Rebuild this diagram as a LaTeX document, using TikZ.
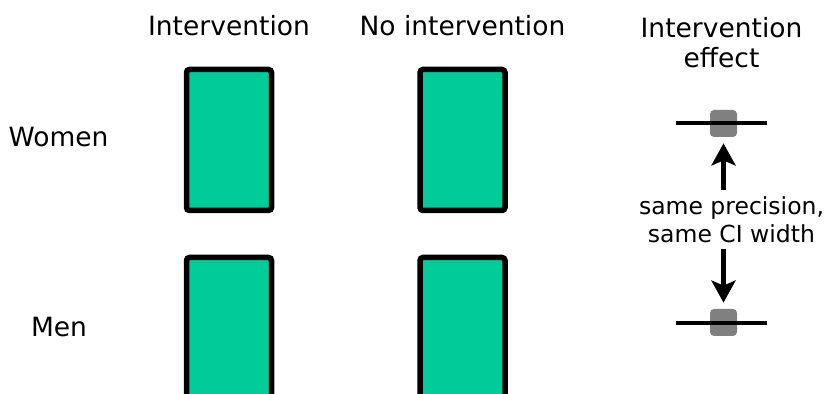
\documentclass[tikz,border=0pt]{standalone}
\usepackage{fontspec}
\setmainfont{DejaVu Sans}
\usetikzlibrary{positioning,arrows.meta}
\definecolor{boxgreen}{RGB}{0,204,153}
\definecolor{estgray}{RGB}{128,128,128}
\begin{document}
\begin{tikzpicture}[x=0.5pt, y=-0.5pt, every node/.style={inner sep=0pt, font=\fontsize{13.25}{15}\selectfont},
  groupbox/.style={draw, line width=2.75pt, rounded corners=1.5pt, fill=boxgreen, minimum width=42.5pt, minimum height=70.5pt},
  estbox/.style={fill=estgray, rounded corners=2pt, minimum width=13.5pt, minimum height=13.5pt},
  ciline/.style={line width=2.4pt},
  notearrow/.style={line width=2.5pt, -{Stealth[length=11pt, width=12pt, inset=2.5pt]}, shorten <=3pt, shorten >=3pt}]
\useasboundingbox (0,0) rectangle (829,394);
\clip (0,0) rectangle (829,394);
% column heads
\node (hint) [anchor=base] at (229,36) {Intervention};
\node (hno) [anchor=base] at (462.5,36) {No intervention};
\node (heff) [anchor=north, align=center] at (721.5,16.7) {Intervention\\effect};
% row labels
\node (women) [anchor=base] at (58.5,147) {Women};
\node (men) [anchor=base] at (59,337) {Men};
% groups
\node (wint) [groupbox] at (229,140) {};
\node (wno) [groupbox] at (462.5,140) {};
\node (mint) [groupbox] at (229,328) {};
\node (mno) [groupbox] at (462.5,328) {};
% estimates with CIs
\node (wsq) [estbox] at (723.5,123.5) {};
\draw[ciline] (676,123) -- (767,123);
\node (msq) [estbox] at (723.5,322.5) {};
\draw[ciline] (676,323) -- (767,323);
% note
\node (note) [anchor=north, align=center, font=\fontsize{11.75}{14}\selectfont] at (731.5,196) {same precision,\\same CI width};
\draw[notearrow] (note.north -| wsq.south) -- (wsq.south);
\draw[notearrow] (note.south -| msq.north) -- (msq.north);
\end{tikzpicture}
\end{document}
